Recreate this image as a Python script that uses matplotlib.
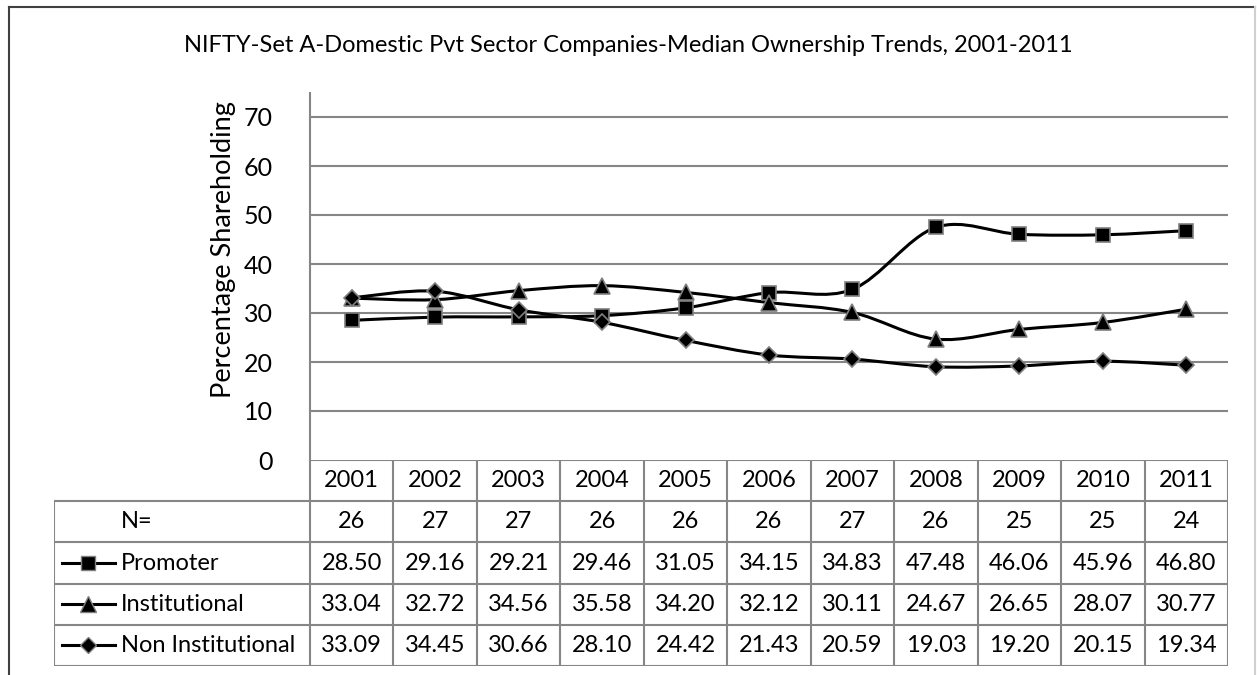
import matplotlib
matplotlib.use('Agg')
import matplotlib.pyplot as plt
from matplotlib.path import Path
from matplotlib.patches import PathPatch
from matplotlib.lines import Line2D

plt.rcParams['font.family'] = ['Lato', 'DejaVu Sans']

years = ['2001', '2002', '2003', '2004', '2005', '2006', '2007', '2008', '2009', '2010', '2011']
n_companies = [26, 27, 27, 26, 26, 26, 27, 26, 25, 25, 24]
promoter = [28.50, 29.16, 29.21, 29.46, 31.05, 34.15, 34.83, 47.48, 46.06, 45.96, 46.80]
institutional = [33.04, 32.72, 34.56, 35.58, 34.20, 32.12, 30.11, 24.67, 26.65, 28.07, 30.77]
non_institutional = [33.09, 34.45, 30.66, 28.10, 24.42, 21.43, 20.59, 19.03, 19.20, 20.15, 19.34]

series_names = ['Promoter', 'Institutional', 'Non Institutional']
series_values = [promoter, institutional, non_institutional]
series_markers = ['s', '^', 'D']
series_msize = [10, 11, 8]

title = 'NIFTY-Set A-Domestic Pvt Sector Companies-Median Ownership Trends, 2001-2011'
ylabel = 'Percentage Shareholding'
yticks = [0, 10, 20, 30, 40, 50, 60, 70]

W, H = 1257, 675
GRAY = '#868686'
FS = 17

fig = plt.figure(figsize=(W / 100, H / 100), dpi=100)

# posiciones en pixeles
plot_l, plot_r = 310, 1228
plot_t, plot_b = 93, 460
tab_l, tab_b = 54, 666


def fx(px):
    return px / W


def fy(py):
    return 1 - py / H


ax = fig.add_axes([fx(plot_l), fy(plot_b), fx(plot_r - plot_l), (plot_b - plot_t) / H])
ax.set_xlim(-0.5, len(years) - 0.5)
ax.set_ylim(0, 70 + (117 - 93) / 49 * 10)
for s in ['top', 'right', 'bottom']:
    ax.spines[s].set_visible(False)
ax.spines['left'].set_color(GRAY)
ax.spines['left'].set_linewidth(1.5)
ax.set_xticks([])
ax.set_yticks(yticks)
ax.set_yticklabels([str(t) for t in yticks], fontsize=18)
ax.tick_params(axis='y', length=0, pad=27)
for t in yticks[1:]:
    ax.axhline(t, color=GRAY, lw=1.5, zorder=1)
ax.set_ylabel(ylabel, fontsize=19.5, va='center')
ax.yaxis.set_label_coords(-(310 - 223) / (plot_r - plot_l), (plot_b - 250) / (plot_b - plot_t))


def smooth_path(xs, ys):
    # curva tipo Excel (Bezier)
    verts = [(xs[0], ys[0])]
    codes = [Path.MOVETO]
    n = len(xs)
    for i in range(n - 1):
        i0 = max(i - 1, 0)
        i3 = min(i + 2, n - 1)
        c1 = (xs[i] + (xs[i + 1] - xs[i0]) / 6, ys[i] + (ys[i + 1] - ys[i0]) / 6)
        c2 = (xs[i + 1] - (xs[i3] - xs[i]) / 6, ys[i + 1] - (ys[i3] - ys[i]) / 6)
        verts += [c1, c2, (xs[i + 1], ys[i + 1])]
        codes += [Path.CURVE4] * 3
    return Path(verts, codes)


xs = list(range(len(years)))
for vals, mk, ms in zip(series_values, series_markers, series_msize):
    ax.add_patch(PathPatch(smooth_path(xs, vals), fill=False, lw=2.2, edgecolor='black', zorder=3))
    ax.plot(xs, vals, linestyle='none', marker=mk, markersize=ms, markerfacecolor='black',
            markeredgecolor='#7f7f7f', markeredgewidth=1.2, zorder=4, clip_on=False)

# tabla de datos
col_w = (plot_r - plot_l) / len(years)
tx0 = -0.5 - (plot_l - tab_l) / col_w
tab = fig.add_axes([fx(tab_l), fy(tab_b), fx(plot_r - tab_l), (tab_b - plot_b) / H])
tab.set_xlim(tx0, len(years) - 0.5)
tab.set_ylim(5, 0)
tab.axis('off')

rows = 5
for r in range(rows + 1):
    x_start = -0.5 if r == 0 else tx0
    tab.plot([x_start, len(years) - 0.5], [r, r], color=GRAY, lw=1.5, solid_capstyle='projecting')
for c in range(len(years) + 1):
    tab.plot([c - 0.5, c - 0.5], [0, rows], color=GRAY, lw=1.5)
tab.plot([tx0, tx0], [1, rows], color=GRAY, lw=1.5)

for i, y in enumerate(years):
    tab.text(i, 0.5, y, ha='center', va='center', fontsize=FS)
    tab.text(i, 1.5, str(n_companies[i]), ha='center', va='center', fontsize=FS)
    for k, vals in enumerate(series_values):
        tab.text(i, 2.5 + k, f'{vals[i]:.2f}', ha='center', va='center', fontsize=FS)


def tx(px):
    return tx0 + (px - tab_l) / col_w


tab.text(tx(121), 1.5, 'N=', ha='left', va='center', fontsize=FS)
for k, (name, mk, ms) in enumerate(zip(series_names, series_markers, series_msize)):
    yy = 2.5 + k
    tab.plot([tx(62), tx(115)], [yy, yy], color='black', lw=2.2)
    tab.plot([tx(88)], [yy], marker=mk, markersize=ms, markerfacecolor='black',
             markeredgecolor='#7f7f7f', markeredgewidth=1.0)
    tab.text(tx(121), yy, name, ha='left', va='center', fontsize=FS)

fig.text(fx(628), fy(45), title, ha='center', va='center', fontsize=FS)

# borde del grafico
fig.add_artist(Line2D([fx(9), fx(9)], [fy(7), 0], color='#404040', lw=1.5))
fig.add_artist(Line2D([fx(9), fx(1255)], [fy(7), fy(7)], color='#404040', lw=1.5))
fig.add_artist(Line2D([fx(1255), fx(1255)], [fy(7), 0], color='#d0d0d0', lw=1.5))

fig.savefig('out.png', dpi=100)
